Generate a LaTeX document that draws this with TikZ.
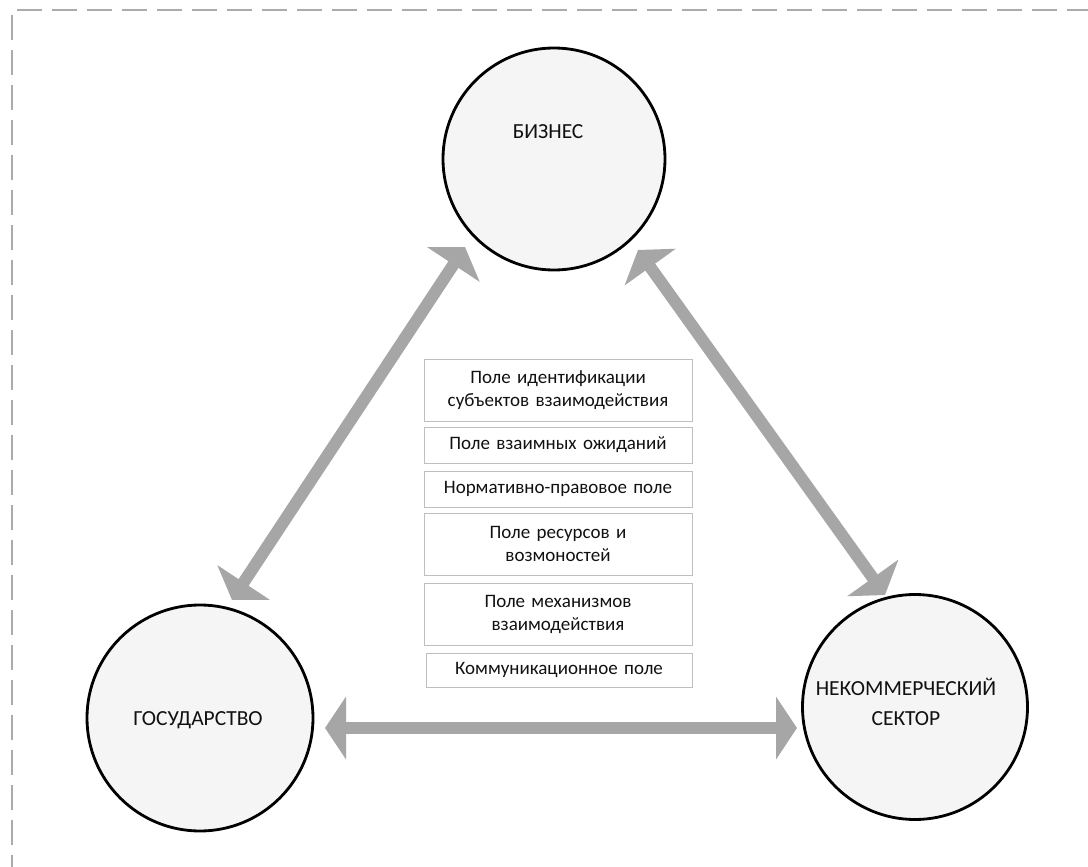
\documentclass[tikz,border=0pt]{standalone}
\usepackage{fontspec}
\setmainfont{Carlito}
\usetikzlibrary{arrows.meta}
\definecolor{arrowgray}{HTML}{A6A6A6}
\definecolor{circfill}{HTML}{F5F5F5}
\definecolor{boxline}{HTML}{BFBFBF}
\definecolor{txt}{HTML}{111111}
\definecolor{framegray}{HTML}{ABABAB}
\begin{document}
\begin{tikzpicture}[x=1pt,y=-1pt,
  circ/.style={circle, draw=black, line width=2.8pt, fill=circfill, inner sep=0pt},
  circtext/.style={text=txt, align=center, font=\fontsize{21.5}{30}\selectfont, inner sep=0pt},
  fieldbox/.style={draw=boxline, line width=1pt, fill=white, align=center, text=txt,
    font=\fontsize{19}{23}\selectfont, inner sep=0pt, text width=268pt},
  bigarrow/.style={draw=arrowgray, line width=12pt,
    {Triangle[length=21pt,width=62pt]}-{Triangle[length=21pt,width=62pt]}},
  frameline/.style={draw=framegray, line width=2.2pt, dash pattern=on 25pt off 10pt}
]
\useasboundingbox[fill=white] (0,0) rectangle (1088,867);
% frame
\draw[frameline] (17,10) -- (1088,10);
\draw[frameline] (12,15) -- (12,867);
% circles
\node[circ, minimum size=222pt] (biz) at (554,159) {};
\node[circ, minimum size=226pt] (gov) at (200,718) {};
\node[circ, minimum size=225pt] (nek) at (915,707) {};
\node[circtext] (bizt) at (548,132) {БИЗНЕС};
\node[circtext] (govt) at (198,720) {ГОСУДАРСТВО};
\node[circtext] (nekt) at (906,702) {НЕКОММЕРЧЕСКИЙ\\СЕКТОР};
% field boxes
\node[fieldbox, minimum height=62pt] (f1) at (558,390) {Поле идентификации\\субъектов взаимодействия};
\node[fieldbox, minimum height=36pt] (f2) at (558,445) {Поле взаимных ожиданий};
\node[fieldbox, minimum height=36pt] (f3) at (558,489) {Нормативно-правовое поле};
\node[fieldbox, minimum height=62pt] (f4) at (558,544) {Поле ресурсов и\\возмоностей};
\node[fieldbox, minimum height=62pt] (f5) at (558,614) {Поле механизмов\\взаимодействия};
\node[fieldbox, minimum height=34pt, text width=266pt] (f6) at (559,670) {Коммуникационное поле};
% arrow ends
\coordinate (gb1) at (232,600);
\coordinate (gb2) at (465,247);
\coordinate (bn1) at (638,250);
\coordinate (bn2) at (885,595);
\coordinate (gn1) at (325,728);
\coordinate (gn2) at (797,728);
\draw[bigarrow] (gb1) -- (gb2);
\draw[bigarrow] (bn1) -- (bn2);
\draw[bigarrow] (gn1) -- (gn2);
\end{tikzpicture}
\end{document}
